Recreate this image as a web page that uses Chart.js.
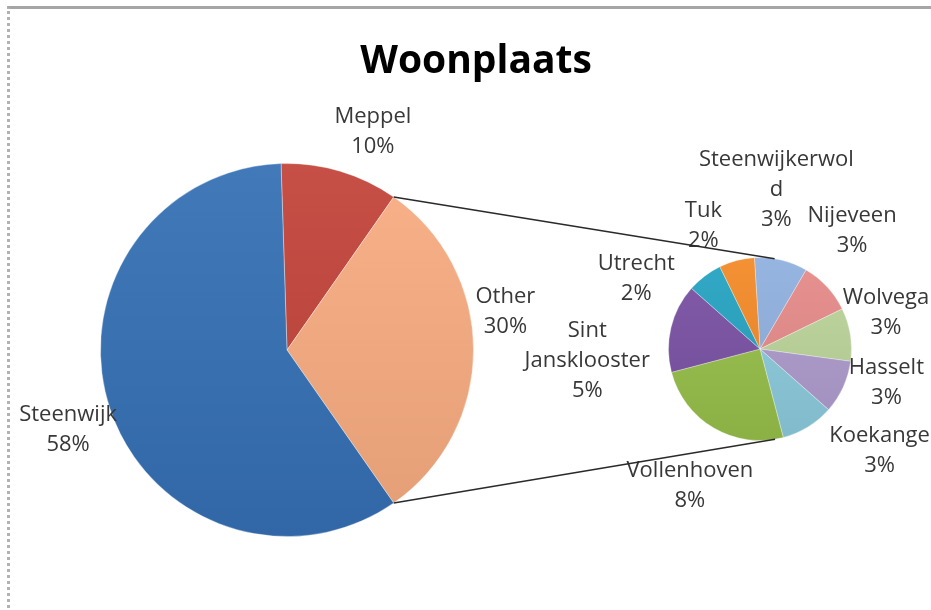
<!DOCTYPE html>
<html>
<head>
<meta charset="utf-8">
<title>Woonplaats</title>
<script src="https://cdn.jsdelivr.net/npm/chart.js@4.4.1/dist/chart.umd.min.js"></script>
<style>
  html, body { margin: 0; padding: 0; background: #fff; }
  #wrap { position: relative; width: 931px; height: 610px; overflow: hidden; }
  #frame {
    position: absolute; left: 7px; top: 6px; right: -10px; bottom: -10px;
    border-top: 3px solid #a6a6a6; border-left: 3px dotted #b2b2b2;
  }
  canvas { position: absolute; left: 0; top: 0; }
</style>
</head>
<body>
<div id="wrap">
  <div id="frame"></div>
  <canvas id="main" width="931" height="610"></canvas>
  <canvas id="detail" width="931" height="610"></canvas>
</div>
<script>
// main pie
const mainLabels = ["Meppel", "Other", "Steenwijk"];
const mainValues = [10, 30, 58];

// breakdown of "Other"
const detailLabels = [
  "Steenwijkerwold",
  "Nijeveen",
  "Wolvega",
  "Hasselt",
  "Koekange",
  "Vollenhoven",
  "Sint Jansklooster",
  "Utrecht",
  "Tuk"
];
const detailValues = [3, 3, 3, 3, 3, 8, 5, 2, 2];

const mainColors = ["#c2443a", "#f8ac80", "#3570b4"];
const detailColors = [
  "#8fb0de", "#e58b89", "#bcd49a", "#ae9bcc", "#8ccbdd",
  "#97bf4a", "#7a52a4", "#25a3c2", "#f38a28"
];

// how excel wrapped the long names
const wrapped = {
  "Steenwijkerwold": ["Steenwijkerwol", "d"],
  "Sint Jansklooster": ["Sint", "Jansklooster"]
};

const FONT = "'Open Sans', sans-serif";
const LINE_H = 30;

Chart.defaults.font.family = FONT;

function mix(hex, target, amt) {
  const a = parseInt(hex.slice(1), 16), b = parseInt(target.slice(1), 16);
  const ch = (v, s) => (v >> s) & 255;
  const out = [16, 8, 0].map(s => Math.round(ch(a, s) + (ch(b, s) - ch(a, s)) * amt));
  return "rgb(" + out.join(",") + ")";
}

// soft top-to-bottom shading like the office chart style
function shaded(colors) {
  return (c) => {
    const base = colors[c.dataIndex];
    const area = c.chart.chartArea;
    if (!area) return base;
    const g = c.chart.ctx.createLinearGradient(0, area.top, 0, area.bottom);
    g.addColorStop(0, mix(base, "#ffffff", 0.06));
    g.addColorStop(1, mix(base, "#000000", 0.08));
    return g;
  };
}

// name + percentage outside each slice
const outsideLabels = {
  id: "outsideLabels",
  afterDatasetsDraw(chart, args, opts) {
    const ctx = chart.ctx;
    const meta = chart.getDatasetMeta(0);
    const values = chart.data.datasets[0].data;
    ctx.save();
    ctx.font = "22px " + FONT;
    ctx.fillStyle = "#383838";
    ctx.textAlign = "center";
    ctx.textBaseline = "middle";
    meta.data.forEach((arc, i) => {
      const name = chart.data.labels[i];
      const lines = (wrapped[name] || [name]).concat(values[i] + "%");
      const mid = (arc.startAngle + arc.endAngle) / 2;
      const cos = Math.cos(mid), sin = Math.sin(mid);
      const r = arc.outerRadius + opts.gap;
      const w = Math.max(...lines.map(l => ctx.measureText(l).width));
      const h = lines.length * LINE_H;
      const shift = opts.shift[name] || [0, 0];
      const cx = arc.x + cos * r + cos * w / 2 + shift[0];
      const cy = arc.y + sin * r + sin * h / 2 + shift[1];
      lines.forEach((line, k) => {
        ctx.fillText(line, cx, cy + (k - (lines.length - 1) / 2) * LINE_H);
      });
    });
    ctx.restore();
  }
};

const chartTitle = {
  id: "chartTitle",
  afterDraw(chart) {
    const ctx = chart.ctx;
    ctx.save();
    ctx.font = "bold 39px " + FONT;
    ctx.fillStyle = "#000";
    ctx.textAlign = "center";
    ctx.textBaseline = "alphabetic";
    ctx.fillText("Woonplaats", 476, 73);
    ctx.restore();
  }
};

// rotate so that "Other" faces the second pie
const otherIdx = mainLabels.indexOf("Other");
const mainTotal = mainValues.reduce((a, b) => a + b, 0);
const beforeOther = mainValues.slice(0, otherIdx).reduce((a, b) => a + b, 0);
const mainRotation = 90 - (beforeOther + mainValues[otherIdx] / 2) / mainTotal * 360;

const mainChart = new Chart(document.getElementById("main"), {
  type: "pie",
  data: {
    labels: mainLabels,
    datasets: [{
      data: mainValues,
      backgroundColor: shaded(mainColors),
      borderColor: "rgba(255,255,255,0.35)",
      borderWidth: 1
    }]
  },
  options: {
    responsive: false,
    animation: false,
    events: [],
    rotation: mainRotation,
    layout: { padding: { left: 100, right: 457, top: 163, bottom: 73 } },
    plugins: {
      legend: { display: false },
      tooltip: { enabled: false },
      outsideLabels: {
        gap: 10,
        shift: {
          "Meppel": [19, -1],
          "Other": [-8, -38],
          "Steenwijk": [14, 8]
        }
      }
    }
  },
  plugins: [outsideLabels, chartTitle]
});

// lines from the "Other" slice, tangent to the second pie
const connectors = {
  id: "connectors",
  afterDraw(chart) {
    const arc = mainChart.getDatasetMeta(0).data[otherIdx];
    const small = chart.getDatasetMeta(0).data[0];
    const ctx = chart.ctx;
    ctx.save();
    ctx.strokeStyle = "#2a2a2a";
    ctx.lineWidth = 1.6;
    [[arc.startAngle, 1], [arc.endAngle, -1]].forEach(([a, side]) => {
      const px = arc.x + Math.cos(a) * arc.outerRadius;
      const py = arc.y + Math.sin(a) * arc.outerRadius;
      const dx = px - small.x, dy = py - small.y;
      const t = Math.atan2(dy, dx) + side * Math.acos(small.outerRadius / Math.hypot(dx, dy));
      ctx.beginPath();
      ctx.moveTo(px, py);
      ctx.lineTo(small.x + Math.cos(t) * small.outerRadius, small.y + Math.sin(t) * small.outerRadius);
      ctx.stroke();
    });
    ctx.restore();
  }
};

new Chart(document.getElementById("detail"), {
  type: "pie",
  data: {
    labels: detailLabels,
    datasets: [{
      data: detailValues,
      backgroundColor: shaded(detailColors),
      borderColor: "rgba(255,255,255,0.3)",
      borderWidth: 1
    }]
  },
  options: {
    responsive: false,
    animation: false,
    events: [],
    rotation: -3.5,
    layout: { padding: { left: 668, right: 79, top: 257, bottom: 169 } },
    plugins: {
      legend: { display: false },
      tooltip: { enabled: false },
      outsideLabels: {
        gap: 10,
        shift: {
          "Steenwijkerwold": [-25, -17],
          "Nijeveen": [-15, -29],
          "Wolvega": [-17, -15],
          "Hasselt": [0, -21],
          "Koekange": [40, -10],
          "Vollenhoven": [13, 23],
          "Sint Jansklooster": [-13, 46],
          "Utrecht": [-39, 34],
          "Tuk": [-26, 4]
        }
      }
    }
  },
  plugins: [outsideLabels, connectors]
});
</script>
</body>
</html>
